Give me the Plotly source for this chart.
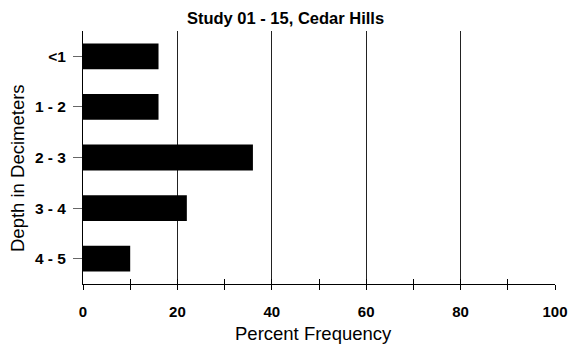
import plotly.graph_objects as go

categories = ["<1", "1 - 2", "2 - 3", "3 - 4", "4 - 5"]
values = [16, 16, 36, 22, 10]
x_ticks = [0, 20, 40, 60, 80, 100]

FONT = "Liberation Sans, Arial, sans-serif"
W, H = 571, 344
L, R, T, B = 83, 16, 31, 60

fig = go.Figure()
fig.add_trace(go.Bar(
    y=categories, x=values, orientation="h",
    marker=dict(color="black", line=dict(width=0)),
    width=0.51, showlegend=False, hoverinfo="skip",
))

fig.update_layout(
    width=W, height=H,
    margin=dict(l=L, r=R, t=T, b=B, pad=0, autoexpand=False),
    paper_bgcolor="white", plot_bgcolor="white",
    font=dict(family=FONT, color="black"),
    title=dict(
        text="<b>Study 01 - 15, Cedar Hills</b>",
        x=0.5, xref="container", xanchor="center",
        y=1 - 18 / H, yref="container", yanchor="middle",
        font=dict(size=16.5, family=FONT, color="black"),
    ),
    xaxis=dict(
        range=[0, 100], tickvals=x_ticks,
        ticktext=[f"<b>{v}</b>" for v in x_ticks],
        tickfont=dict(size=15, family=FONT, color="black"),
        ticklabelstandoff=9,
        showgrid=True, gridcolor="#222222", gridwidth=1,
        showline=True, linecolor="black", linewidth=1,
        ticks="outside", ticklen=5, tickcolor="black", tickwidth=1,
        minor=dict(dtick=10, tick0=0, ticks="outside", ticklen=5,
                   tickcolor="black", tickwidth=1, showgrid=False),
        zeroline=False, fixedrange=True, automargin=False,
    ),
    xaxis2=dict(
        range=[0, 100], overlaying="x", anchor="y", side="bottom",
        tickmode="linear", tick0=0, dtick=10,
        ticks="inside", ticklen=5, tickcolor="black", tickwidth=1,
        showticklabels=False, showgrid=False, showline=False, zeroline=False,
        automargin=False, fixedrange=True,
    ),
    yaxis=dict(
        categoryorder="array", categoryarray=categories, autorange="reversed",
        ticktext=[f"<b>{c}</b>" for c in categories], tickvals=categories,
        tickfont=dict(size=15.5, family=FONT, color="black"),
        ticklabelstandoff=4,
        showgrid=False, showline=True, linecolor="black", linewidth=1,
        ticks="outside", ticklen=9, tickcolor="#666666", tickwidth=1,
        zeroline=False, fixedrange=True, automargin=False,
    ),
    bargap=0.49,
    annotations=[
        dict(text="Depth in Decimeters", textangle=-90,
             xref="paper", yref="paper", x=0, y=(284 - 168) / 253,
             xanchor="center", yanchor="middle", xshift=17 - L,
             showarrow=False, font=dict(size=18.5, family=FONT, color="black")),
        dict(text="Percent Frequency",
             xref="paper", yref="paper", x=(313.5 - L) / 472, y=0,
             xanchor="center", yanchor="middle", yshift=-49,
             showarrow=False, font=dict(size=18.5, family=FONT, color="black")),
    ],
)

# invisible trace to make xaxis2 render
fig.add_trace(go.Scatter(x=[0], y=[categories[0]], xaxis="x2", yaxis="y",
                         mode="markers", marker=dict(opacity=0),
                         showlegend=False, hoverinfo="skip"))

fig.write_html("out.html", config={"displayModeBar": False, "staticPlot": True})

with open("out.html", "r", encoding="utf-8") as f:
    html = f.read()
html = html.replace("<head>", "<head><style>html,body{margin:0;padding:0;overflow:hidden;}</style>", 1)
with open("out.html", "w", encoding="utf-8") as f:
    f.write(html)
